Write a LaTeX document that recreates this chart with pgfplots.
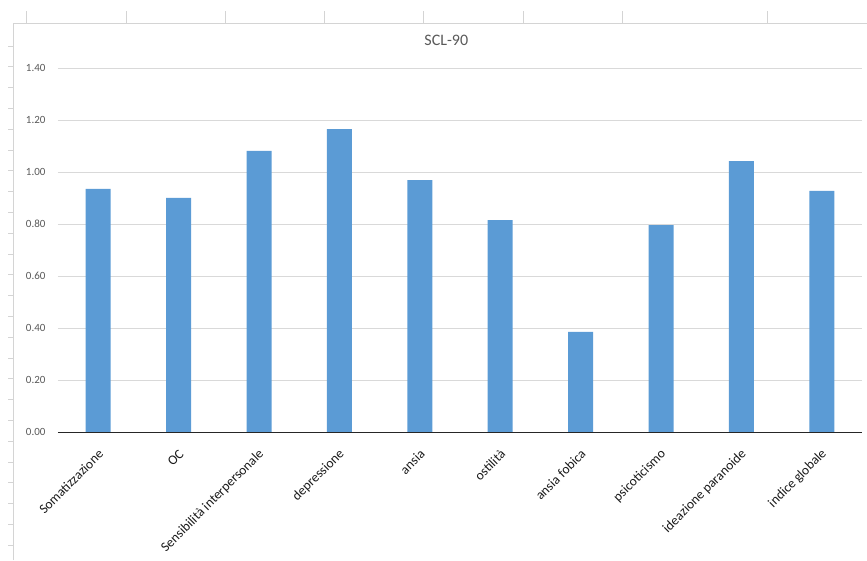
\documentclass[border=0pt]{standalone}
\usepackage{pgfplots}
\pgfplotsset{compat=1.18}
\usepackage{fontspec}
\setmainfont{Carlito}
\definecolor{barblue}{HTML}{5B9BD5}
\definecolor{gridgray}{HTML}{D9D9D9}
\definecolor{ticktxt}{HTML}{595959}
\definecolor{labtxt}{HTML}{1A1A1A}
\definecolor{sheet}{HTML}{D4D4D4}
\begin{document}
\begin{tikzpicture}[x=1pt,y=1pt]
\useasboundingbox (0,0) rectangle (867,560);
% spreadsheet behind the chart
\draw[sheet, line width=1pt] (13,0) -- (13,536) -- (867,536);
\foreach \xx in {26,126,225,324,423,523,622,767}{
  \draw[sheet, line width=0.8pt] (\xx,536) -- (\xx,549);
}
\foreach \k in {0,...,24}{
  \draw[sheet, line width=0.8pt] (8,{514-20.8*\k}) -- (13,{514-20.8*\k});
}
\begin{axis}[
  at={(58pt,128pt)}, anchor=south west,
  scale only axis,
  width=804pt, height=364pt,
  xmin=-0.5, xmax=9.5,
  ymin=0, ymax=1.4,
  ytick={0,0.2,...,1.41},
  yticklabel={\pgfmathprintnumber[fixed,fixed zerofill,precision=2]{\tick}},
  /pgf/number format/assume math mode=true,
  ymajorgrids,
  grid style={gridgray, line width=0.8pt},
  axis line style={draw=none},
  axis x line*=bottom,
  xtick=data,
  xticklabels={Somatizzazione,OC,Sensibilità interpersonale,depressione,ansia,ostilità,ansia fobica,psicoticismo,ideazione paranoide,indice globale},
  xticklabel style={rotate=45, anchor=east, font=\fontsize{13.5}{15}\selectfont, text=labtxt, inner sep=1pt, yshift=-16pt, xshift=-11pt},
  yticklabel style={font=\fontsize{11}{13}\selectfont, text=ticktxt, xshift=-9pt},
  major tick length=0pt,
  tick style={draw=none},
  title={SCL-90},
  title style={font=\fontsize{16}{18}\selectfont, text=ticktxt, at={(0.483,1)}, anchor=north, yshift=30pt},
  clip=false,
]
\addplot[ybar, bar width=25pt, fill=barblue, draw=none] coordinates {
  (0,0.935) (1,0.900) (2,1.081) (3,1.165) (4,0.969)
  (5,0.815) (6,0.385) (7,0.796) (8,1.042) (9,0.927)
};
\draw[black!85, line width=1pt] (axis cs:-0.5,0) -- (axis cs:9.5,0);
\end{axis}
\end{tikzpicture}
\end{document}
